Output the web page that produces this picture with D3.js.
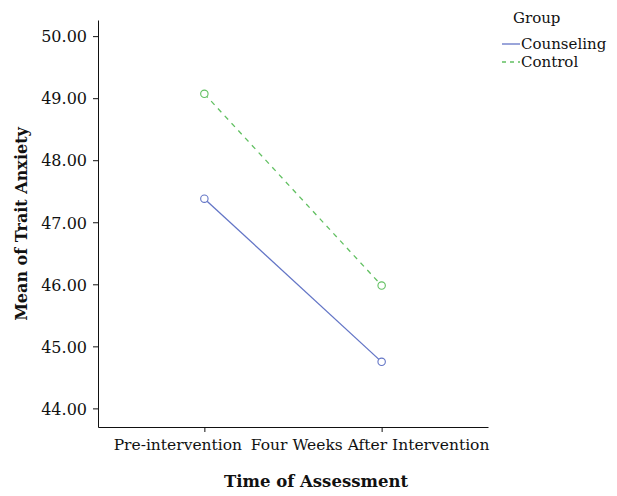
<!DOCTYPE html>
<html>
<head>
<meta charset="utf-8">
<script src="https://cdn.jsdelivr.net/npm/d3@7"></script>
<style>
  html, body { margin: 0; padding: 0; background: #fff; }
  svg text { font-family: "DejaVu Serif", serif; fill: #111; }
</style>
</head>
<body>
<svg id="chart" width="617" height="496"></svg>
<script>
// Time points on the x axis
const timePoints = ["Pre-intervention", "Four Weeks After Intervention"];
// Group names and their estimated marginal means
const groups = ["Counseling", "Control"];
const counselingMeans = [47.38, 44.75];
const controlMeans = [49.07, 45.98];
// Y axis ticks
const yTicks = [44, 45, 46, 47, 48, 49, 50];

const groupStyle = {
  Counseling: { color: "#6375c6", dash: null },
  Control: { color: "#62c062", dash: "5,5" }
};
const seriesValues = { Counseling: counselingMeans, Control: controlMeans };

const svg = d3.select("#chart");
const plotLeft = 98, plotRight = 488, plotTop = 20, plotBottom = 427;

const x = d3.scalePoint().domain(timePoints).range([plotLeft, plotRight]).padding(0.6);
const y = d3.scaleLinear().domain([43.7, 50.26]).range([plotBottom, plotTop]);

// y axis
const yAxis = svg.append("g")
  .attr("transform", `translate(${plotLeft},0)`)
  .call(d3.axisLeft(y).tickValues(yTicks).tickFormat(d3.format(".2f")).tickSize(5).tickSizeOuter(0));
yAxis.select(".domain").attr("stroke", "#111");
yAxis.selectAll(".tick line").attr("stroke", "#111");
yAxis.selectAll(".tick text").attr("font-size", 16).attr("x", -11).attr("dy", "0.36em")
  .style("font-family", "DejaVu Serif").attr("fill", "#111");

// x axis; long category labels are nudged left so they do not collide
const labelShift = [-27, -12];
const xAxis = svg.append("g")
  .attr("transform", `translate(0,${plotBottom})`)
  .call(d3.axisBottom(x).tickSize(5).tickSizeOuter(0));
xAxis.select(".domain").attr("stroke", "#111");
xAxis.selectAll(".tick line").attr("stroke", "#111");
xAxis.selectAll(".tick text").attr("font-size", 15.5).attr("y", 12).attr("dy", "0.71em")
  .attr("x", (d, i) => labelShift[i])
  .style("font-family", "DejaVu Serif").attr("fill", "#111");

// series lines and open circle markers
const line = d3.line().x((d, i) => x(timePoints[i])).y(d => y(d));
groups.forEach(g => {
  const st = groupStyle[g];
  svg.append("path")
    .datum(seriesValues[g])
    .attr("d", line)
    .attr("fill", "none")
    .attr("stroke", st.color)
    .attr("stroke-width", 1.3)
    .attr("stroke-dasharray", st.dash);
  svg.selectAll(null)
    .data(seriesValues[g])
    .enter().append("circle")
    .attr("cx", (d, i) => x(timePoints[i]))
    .attr("cy", d => y(d))
    .attr("r", 3.7)
    .attr("fill", "#fff")
    .attr("stroke", st.color)
    .attr("stroke-width", 1.1);
});

// axis titles
svg.append("text")
  .attr("x", 316).attr("y", 487)
  .attr("text-anchor", "middle")
  .attr("font-size", 16.5).attr("font-weight", "bold")
  .text("Time of Assessment");
svg.append("text")
  .attr("transform", "translate(27,224) rotate(-90)")
  .attr("text-anchor", "middle")
  .attr("font-size", 16).attr("font-weight", "bold")
  .text("Mean of Trait Anxiety");

// legend
const legend = svg.append("g");
legend.append("text").attr("x", 513).attr("y", 23).attr("font-size", 15).text("Group");
groups.forEach((g, i) => {
  const st = groupStyle[g];
  const ly = 44 + i * 18;
  legend.append("line")
    .attr("x1", 502).attr("x2", 520).attr("y1", ly).attr("y2", ly)
    .attr("stroke", st.color).attr("stroke-width", 1.3)
    .attr("stroke-dasharray", st.dash ? "4,4" : null);
  legend.append("text").attr("x", 521).attr("y", ly + 5).attr("font-size", 15).text(g);
});
</script>
</body>
</html>
